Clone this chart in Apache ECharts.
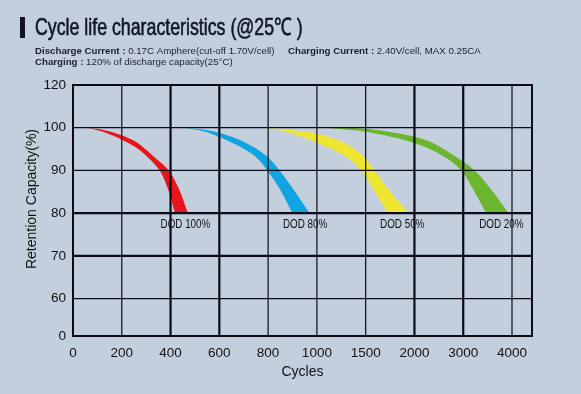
<!DOCTYPE html>
<html><head><meta charset="utf-8">
<script src="https://cdn.jsdelivr.net/npm/echarts@6/dist/echarts.min.js"></script>
<style>html,body{margin:0;padding:0;background:#c3cfdd}#c{width:581px;height:394px}</style>
</head><body><div id="c"></div>
<script>
// ---- data ----
const xTickValues = [0, 200, 400, 600, 800, 1000, 1500, 2000, 3000, 4000];
const xTickLabels = ['0', '200', '400', '600', '800', '1000', '1500', '2000', '3000', '4000'];
const yTickValues = [0, 60, 70, 80, 90, 100, 120];
const yTickLabels = ['0', '60', '70', '80', '90', '100', '120'];
const bandNames = ['DOD 100%', 'DOD 80%', 'DOD 50%', 'DOD 20%'];
// [cycles, retention %] — outer (upper) and inner (lower) edges of each band
const dod100Upper = [[61, 100], [130, 99.4], [200, 98.2], [260, 96.6], [328, 93.4], [392, 90], [434, 85.7], [471, 80]];
const dod100Lower = [[61, 100], [130, 98.9], [200, 97.2], [260, 95.3], [301, 93.4], [355, 90], [389, 85.7], [418, 80]];
const dod80Upper = [[458, 100], [540, 99.5], [600, 98.8], [704, 96.6], [793, 93.4], [847, 90], [902, 85.7], [970, 80]];
const dod80Lower = [[458, 100], [540, 99.1], [600, 97.8], [663, 96.2], [745, 93.4], [797, 90], [847, 85.7], [900, 80]];
const dod50Upper = [[793, 100], [902, 99.4], [1000, 98.6], [1266, 96.6], [1471, 93.4], [1591, 90], [1727, 85.7], [1940, 80]];
const dod50Lower = [[793, 100], [902, 98.6], [1000, 96.5], [1284, 93.4], [1455, 90], [1574, 85.7], [1727, 80]];
const dod20Upper = [[1080, 100], [1500, 99.75], [2000, 97.9], [2344, 96.6], [2822, 93.4], [3232, 90], [3560, 85.7], [3930, 80]];
const dod20Lower = [[1080, 100], [1500, 99.05], [2000, 96.4], [2582, 93.4], [2959, 90], [3197, 85.7], [3471, 80]];

// ---- styling / layout ----
const bandColors = ['#e8161b', '#10a5e0', '#eee632', '#6cb52e'];
const bands = [
  { upper: dod100Upper, lower: dod100Lower },
  { upper: dod80Upper, lower: dod80Lower },
  { upper: dod50Upper, lower: dod50Lower },
  { upper: dod20Upper, lower: dod20Lower }
];
const yTickPos = [0, 0.875, 1.875, 2.875, 3.875, 4.875, 5.875];
const xMaxPos = 9.41;
const xThick = [400, 600, 2000, 3000];
const yThick = [70, 80];
const lineColor = '#0b0b18';
const sans = '"Liberation Sans", Arial, sans-serif';

function interp(v, from, to) {
  for (let i = 0; i < from.length - 1; i++) {
    if (v <= from[i + 1] || i === from.length - 2) {
      return to[i] + (v - from[i]) / (from[i + 1] - from[i]) * (to[i + 1] - to[i]);
    }
  }
}
const xIdx = xTickValues.map((_, i) => i);
function xPos(c) { return interp(c, xTickValues, xIdx); }
function yPos(r) { return interp(r, yTickValues, yTickPos); }

// centripetal Catmull-Rom sampling of an edge (drawing only)
function smoothPts(pts, n) {
  const out = [];
  const d = (a, b) => Math.max(Math.pow(Math.hypot(b[0] - a[0], b[1] - a[1]), 0.5), 1e-4);
  for (let i = 0; i < pts.length - 1; i++) {
    const p1 = pts[i], p2 = pts[i + 1];
    const p0 = i > 0 ? pts[i - 1] : [2 * p1[0] - p2[0], 2 * p1[1] - p2[1]];
    const p3 = i + 2 < pts.length ? pts[i + 2] : [2 * p2[0] - p1[0], 2 * p2[1] - p1[1]];
    const t0 = 0, t1 = t0 + d(p0, p1), t2 = t1 + d(p1, p2), t3 = t2 + d(p2, p3);
    for (let k = 0; k < n; k++) {
      const t = t1 + (t2 - t1) * k / n;
      const L = (a, b, ta, tb) => [((tb - t) * a[0] + (t - ta) * b[0]) / (tb - ta), ((tb - t) * a[1] + (t - ta) * b[1]) / (tb - ta)];
      const A1 = L(p0, p1, t0, t1), A2 = L(p1, p2, t1, t2), A3 = L(p2, p3, t2, t3);
      const B1 = L(A1, A2, t0, t2), B2 = L(A2, A3, t1, t3);
      out.push(L(B1, B2, t1, t2));
    }
  }
  out.push(pts[pts.length - 1]);
  return out;
}

const gridLines = [];
xTickValues.slice(1).forEach(v => gridLines.push({ dir: 'x', v: v, thick: xThick.includes(v) }));
yTickValues.slice(1, -1).forEach(v => gridLines.push({ dir: 'y', v: v, thick: yThick.includes(v) }));

const richB = { b: { fontWeight: 'bold', fontSize: 9.7, fontFamily: 'Liberation Sans', fill: '#1c1f2c' } };
const chart = echarts.init(document.getElementById('c'), null, { renderer: 'canvas' });
chart.setOption({
  backgroundColor: '#c3cfdd',
  animation: false,
  grid: { left: 73, right: 49, top: 85, bottom: 58, show: true, borderColor: lineColor, borderWidth: 2, backgroundColor: 'transparent' },
  xAxis: {
    type: 'value', min: 0, max: xMaxPos, interval: 1,
    axisLine: { show: false }, axisTick: { show: false }, splitLine: { show: false },
    axisLabel: {
      margin: 10, fontFamily: sans, fontSize: 13.5, color: '#111',
      formatter: v => (Number.isInteger(v) && v < xTickLabels.length) ? xTickLabels[v] : ''
    },
    name: 'Cycles', nameLocation: 'middle', nameGap: 29, nameMoveOverlap: false,
    nameTextStyle: { fontFamily: sans, fontSize: 14, color: '#111' }
  },
  yAxis: {
    type: 'value', min: 0, max: yTickPos[yTickPos.length - 1],
    axisLine: { show: false }, axisTick: { show: false, customValues: yTickPos }, splitLine: { show: false },
    axisLabel: {
      customValues: yTickPos, margin: 7, fontFamily: sans, fontSize: 13.5, color: '#111',
      formatter: v => { const i = yTickPos.findIndex(p => Math.abs(p - v) < 1e-6); return i >= 0 ? yTickLabels[i] : ''; }
    },
    name: 'Retention Capacity(%)', nameLocation: 'middle', nameGap: 34, nameMoveOverlap: false,
    nameTextStyle: { fontFamily: sans, fontSize: 14, color: '#111', padding: [0, 0, 0, 23] }
  },
  graphic: [
    { type: 'rect', x: 20, y: 17, shape: { width: 5, height: 21 }, style: { fill: '#0f1424' } },
    { type: 'text', x: 35, y: 28, scaleX: 0.74, style: { text: 'Cycle life characteristics (@25℃ )', font: '24px "Liberation Sans"', fill: '#10152a', stroke: '#10152a', lineWidth: 0.6, verticalAlign: 'middle' } },
    { type: 'text', x: 35, y: 51, style: { text: '{b|Discharge Current :} 0.17C Amphere(cut-off 1.70V/cell)', font: '9.7px "Liberation Sans"', fill: '#1c1f2c', verticalAlign: 'middle', rich: richB } },
    { type: 'text', x: 288, y: 51, style: { text: '{b|Charging Current :} 2.40V/cell, MAX 0.25CA', font: '9.7px "Liberation Sans"', fill: '#1c1f2c', verticalAlign: 'middle', rich: richB } },
    { type: 'text', x: 35, y: 62.7, style: { text: '{b|Charging :} 120% of discharge capacity(25°C)', font: '9.7px "Liberation Sans"', fill: '#1c1f2c', verticalAlign: 'middle', rich: richB } }
  ],
  series: [
    {
      type: 'custom', name: 'bands', coordinateSystem: 'cartesian2d',
      data: bands.map(() => [0, 0]), clip: false,
      renderItem: (params, api) => {
        const i = params.dataIndex, b = bands[i];
        const up = b.upper.map(p => api.coord([xPos(p[0]), yPos(p[1])]));
        const lo = b.lower.map(p => api.coord([xPos(p[0]), yPos(p[1])]));
        const poly = smoothPts(up, 10).concat(smoothPts(lo, 10).reverse());
        const bl = lo[lo.length - 1], bu = up[up.length - 1];
        return {
          type: 'group', children: [
            { type: 'polygon', shape: { points: poly }, style: { fill: bandColors[i] } },
            { type: 'text', x: (bl[0] + bu[0]) / 2 + 4, y: bl[1] + 12, scaleX: 0.82, style: { text: bandNames[i], align: 'center', verticalAlign: 'middle', fontFamily: sans, fontSize: 12, fill: '#111' } }
          ]
        };
      }
    },
    {
      type: 'custom', name: 'grid', coordinateSystem: 'cartesian2d',
      data: gridLines.map(() => [0, 0]), clip: false, z: 5,
      renderItem: (params, api) => {
        const g = gridLines[params.dataIndex];
        let p1, p2;
        if (g.dir === 'x') { p1 = api.coord([xPos(g.v), 0]); p2 = api.coord([xPos(g.v), yTickPos[yTickPos.length - 1]]); }
        else { p1 = api.coord([0, yPos(g.v)]); p2 = api.coord([xMaxPos, yPos(g.v)]); }
        return { type: 'line', shape: { x1: p1[0], y1: p1[1], x2: p2[0], y2: p2[1] }, style: { stroke: lineColor, lineWidth: g.thick ? 2.2 : 1.2 } };
      }
    }
  ]
});
</script>
</body></html>
